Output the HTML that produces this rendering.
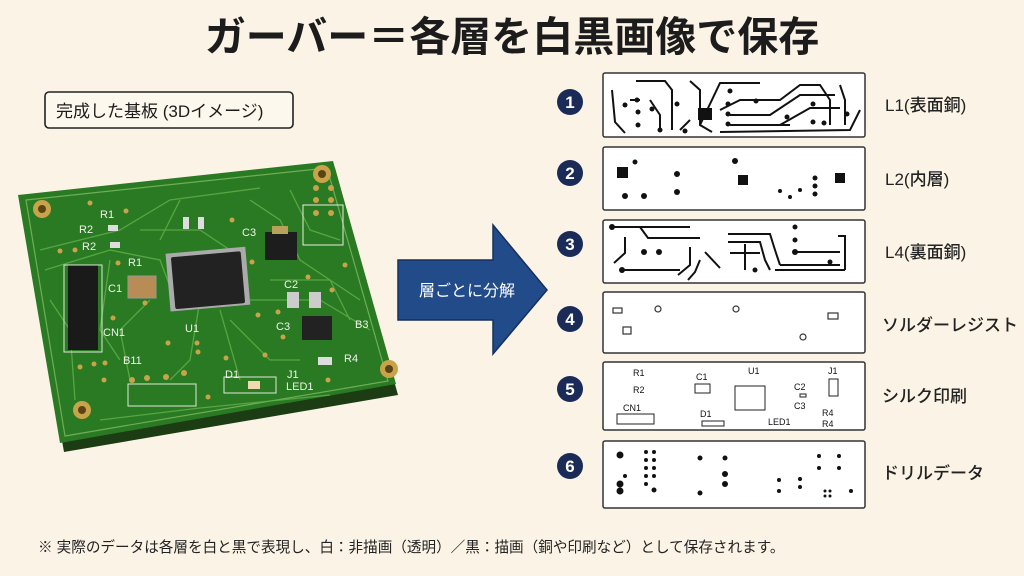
<!DOCTYPE html>
<html><head><meta charset="utf-8"><style>
html,body{margin:0;padding:0;background:#fbf4e6;}
svg{display:block;}
text{font-family:"Liberation Sans","Noto Sans CJK JP",sans-serif;}
</style></head><body>
<svg width="1024" height="576" viewBox="0 0 1024 576" xmlns="http://www.w3.org/2000/svg">
<rect width="1024" height="576" fill="#fbf4e6"/>
<text x="512" y="51" font-size="41" font-weight="bold" text-anchor="middle" fill="#1c1c1c">ガーバー＝各層を白黒画像で保存</text>
<rect x="45" y="92" width="248" height="36" rx="4" fill="#fdf8ee" stroke="#222" stroke-width="1.6"/>
<text x="56" y="117" font-size="17" fill="#1c1c1c">完成した基板 (3Dイメージ)</text>

<!-- PCB -->
<polygon points="20,203 335,168 398,395 64,452" fill="#1c3d14"/>
<polygon points="18,195 333,161 396,384 60,443" fill="#2a7a24"/>
<polygon points="26,200 327,168 388,381 65,436" fill="none" stroke="#8dc36d" stroke-width="1.2" opacity="0.7"/>
<g stroke="#5fae47" stroke-width="1.3" fill="none" opacity="0.85">
<path d="M40,250 L120,230 L170,200 L260,188"/><path d="M45,270 L110,250 L160,260 L175,300"/>
<path d="M50,300 L70,330 L75,400"/><path d="M140,230 L200,230 L230,250"/>
<path d="M250,200 L280,220 L300,260 L360,300"/><path d="M250,300 L320,300 L370,330"/>
<path d="M200,300 L190,360 L170,380"/><path d="M220,310 L240,380"/><path d="M150,300 L120,330 L130,380"/>
<path d="M270,280 L330,280 L350,320"/><path d="M100,420 L200,408 L330,395"/><path d="M180,200 L160,240"/>
<path d="M290,190 L310,230 L340,240"/><path d="M230,320 L270,360 L300,360"/><path d="M110,260 L100,330 L120,360"/>
</g>
<g fill="#c9a34a">
<circle cx="42" cy="209" r="9"/><circle cx="322" cy="174" r="9"/><circle cx="389" cy="369" r="9"/><circle cx="82" cy="410" r="9"/>
</g>
<g fill="#5a4414"><circle cx="42" cy="209" r="4"/><circle cx="322" cy="174" r="4"/><circle cx="389" cy="369" r="4"/><circle cx="82" cy="410" r="4"/></g>
<g fill="#c9a34a">
<circle cx="90" cy="203" r="2.5"/><circle cx="126" cy="211" r="2.5"/><circle cx="60" cy="251" r="2.5"/><circle cx="75" cy="250" r="2.5"/>
<circle cx="118" cy="263" r="2.5"/><circle cx="145" cy="303" r="2.5"/><circle cx="113" cy="318" r="2.5"/><circle cx="168" cy="343" r="2.5"/>
<circle cx="197" cy="343" r="2.5"/><circle cx="198" cy="352" r="2.5"/><circle cx="226" cy="358" r="2.5"/><circle cx="258" cy="315" r="2.5"/>
<circle cx="278" cy="312" r="2.5"/><circle cx="283" cy="337" r="2.5"/><circle cx="265" cy="355" r="2.5"/><circle cx="232" cy="220" r="2.5"/>
<circle cx="236" cy="256" r="2.5"/><circle cx="252" cy="262" r="2.5"/><circle cx="290" cy="236" r="2.5"/><circle cx="345" cy="265" r="2.5"/>
<circle cx="308" cy="277" r="2.5"/><circle cx="332" cy="290" r="2.5"/><circle cx="80" cy="367" r="2.5"/><circle cx="94" cy="364" r="2.5"/>
<circle cx="105" cy="363" r="2.5"/><circle cx="104" cy="380" r="2.5"/><circle cx="132" cy="380" r="3"/><circle cx="147" cy="378" r="3"/>
<circle cx="166" cy="377" r="3"/><circle cx="184" cy="373" r="3"/><circle cx="208" cy="397" r="2.5"/><circle cx="328" cy="380" r="2.5"/>
<circle cx="316" cy="188" r="3"/><circle cx="316" cy="200" r="3"/><circle cx="316" cy="213" r="3"/><circle cx="331" cy="188" r="3"/><circle cx="331" cy="200" r="3"/><circle cx="331" cy="213" r="3"/>
</g>
<rect x="303" y="205" width="40" height="40" fill="none" stroke="#e8efe0" stroke-width="1"/>
<g transform="rotate(-5 210 280)">
<rect x="168" y="250" width="80" height="58" fill="#aaa"/>
<rect x="173" y="254" width="70" height="52" rx="2" fill="#222"/>
</g>
<rect x="128" y="276" width="28" height="22" fill="#b78c55" stroke="#999"/>
<rect x="68" y="265" width="30" height="85" fill="#1a1a1a"/>
<rect x="64" y="265" width="38" height="87" fill="none" stroke="#dde8d6"/>
<rect x="265" y="232" width="32" height="28" fill="#1d1d1d"/>
<rect x="272" y="226" width="16" height="8" fill="#b8a25a"/>
<rect x="302" y="316" width="30" height="24" fill="#222"/>
<rect x="287" y="292" width="12" height="16" fill="#ccc"/><rect x="309" y="292" width="12" height="16" fill="#ccc"/>
<rect x="108" y="225" width="10" height="6" fill="#ddd"/><rect x="110" y="242" width="10" height="6" fill="#ddd"/>
<rect x="183" y="217" width="6" height="12" fill="#ddd"/><rect x="198" y="217" width="6" height="12" fill="#ddd"/>
<rect x="318" y="357" width="14" height="8" fill="#ddd"/><rect x="248" y="381" width="12" height="8" fill="#f0d8b0"/>
<rect x="128" y="384" width="68" height="22" fill="none" stroke="#dde8d6"/>
<rect x="224" y="377" width="52" height="16" fill="none" stroke="#dde8d6"/>
<g fill="#f2f2ea" font-size="11">
<text x="100" y="218">R1</text><text x="79" y="233">R2</text><text x="82" y="250">R2</text>
<text x="128" y="266">R1</text><text x="108" y="292">C1</text><text x="242" y="236">C3</text>
<text x="284" y="288">C2</text><text x="276" y="330">C3</text><text x="355" y="328">B3</text>
<text x="344" y="362">R4</text><text x="103" y="336">CN1</text><text x="185" y="332">U1</text>
<text x="123" y="364">B11</text><text x="225" y="378">D1</text><text x="287" y="378">J1</text>
<text x="286" y="390">LED1</text>
</g>

<!-- arrow -->
<polygon points="398,260 493,260 493,225 547,290 493,354 493,320 398,320" fill="#224b8a" stroke="#15305c" stroke-width="1.5"/>
<text x="467" y="296" font-size="16" fill="#fff" text-anchor="middle">層ごとに分解</text>

<g fill="#1b2b57">
<circle cx="570" cy="102" r="13"/><circle cx="570" cy="173" r="13"/><circle cx="570" cy="244" r="13"/>
<circle cx="570" cy="319" r="13"/><circle cx="570" cy="389" r="13"/><circle cx="570" cy="466" r="13"/>
</g>
<g fill="#fff" font-size="17" font-weight="bold" text-anchor="middle">
<text x="570" y="108">1</text><text x="570" y="179">2</text><text x="570" y="250">3</text>
<text x="570" y="325">4</text><text x="570" y="395">5</text><text x="570" y="472">6</text>
</g>
<g fill="#fff" stroke="#333" stroke-width="1.5">
<rect x="603" y="73" width="262" height="64" rx="2"/><rect x="603" y="147" width="262" height="63" rx="2"/>
<rect x="603" y="220" width="262" height="63" rx="2"/><rect x="603" y="292" width="262" height="61" rx="2"/>
<rect x="603" y="362" width="262" height="68" rx="2"/><rect x="603" y="441" width="262" height="67" rx="2"/>
</g>
<g fill="#222" font-size="17" font-weight="500">
<text x="885" y="111">L1(表面銅)</text><text x="885" y="185">L2(内層)</text><text x="885" y="258">L4(裏面銅)</text>
<text x="882" y="331">ソルダーレジスト</text><text x="882" y="402">シルク印刷</text><text x="882" y="479">ドリルデータ</text>
</g>
<g stroke="#111" stroke-width="2" fill="none">
<path d="M612,90 L615,122 L625,133"/><path d="M636,81 L665,81 L672,90 L672,130"/><path d="M690,81 L700,90 L700,125 L712,132"/>
<path d="M700,125 L720,83 L760,83"/><path d="M720,110 L740,100 L780,100 L800,85 L820,85 L830,100 L830,125"/>
<path d="M730,115 L770,115 L800,95 L835,95"/><path d="M730,125 L780,125 L810,108 L840,108"/><path d="M720,132 L850,130 L860,110"/>
<path d="M680,130 L690,120"/><path d="M630,100 L640,100"/><path d="M650,100 L660,115 L660,130"/>
<path d="M840,85 L845,100 L845,125"/><path d="M773,125 L790,125"/>
</g>
<rect x="698" y="108" width="14" height="12" fill="#111"/>
<g fill="#111">
<circle cx="625" cy="105" r="2.5"/><circle cx="637" cy="100" r="2.5"/><circle cx="638" cy="112" r="2.5"/><circle cx="638" cy="125" r="2.5"/>
<circle cx="652" cy="109" r="2.5"/><circle cx="660" cy="130" r="2.5"/><circle cx="677" cy="104" r="2.5"/><circle cx="685" cy="131" r="2.5"/>
<circle cx="728" cy="104" r="2.5"/><circle cx="728" cy="114" r="2.5"/><circle cx="728" cy="124" r="2.5"/><circle cx="787" cy="117" r="2.5"/>
<circle cx="813" cy="104" r="2.5"/><circle cx="813" cy="122" r="2.5"/><circle cx="824" cy="123" r="2.5"/><circle cx="847" cy="114" r="2.5"/>
<circle cx="756" cy="101" r="2.5"/><circle cx="730" cy="91" r="2.5"/>
</g>
<g fill="#111">
<rect x="617" y="167" width="11" height="11"/><rect x="738" y="175" width="10" height="10"/><rect x="835" y="173" width="10" height="10"/>
<circle cx="635" cy="162" r="2.5"/><circle cx="625" cy="196" r="3"/><circle cx="644" cy="196" r="3"/><circle cx="677" cy="174" r="3"/><circle cx="677" cy="192" r="3"/>
<circle cx="735" cy="161" r="3"/><circle cx="780" cy="191" r="2"/><circle cx="790" cy="197" r="2"/><circle cx="800" cy="190" r="2"/>
<circle cx="815" cy="178" r="2.5"/><circle cx="815" cy="186" r="2.5"/><circle cx="815" cy="194" r="2.5"/>
</g>
<g stroke="#111" stroke-width="2" fill="none">
<path d="M612,227 L690,227"/><path d="M640,227 L648,238 L700,238"/><path d="M625,237 L625,253 L614,263"/>
<path d="M620,270 L680,270"/><path d="M690,247 L690,265 L678,275"/><path d="M705,252 L720,268"/><path d="M700,260 L695,272 L688,280"/>
<path d="M728,234 L770,234 L775,250 L780,265"/><path d="M728,242 L760,242 L765,260 L770,270"/><path d="M730,253 L760,253"/>
<path d="M745,244 L745,270"/><path d="M795,252 L840,252"/><path d="M780,265 L840,265"/><path d="M775,270 L845,270"/><path d="M838,236 L845,236 L845,270"/>
</g>
<g fill="#111">
<circle cx="644" cy="252" r="3"/><circle cx="659" cy="252" r="3"/><circle cx="612" cy="227" r="3"/><circle cx="795" cy="227" r="2.5"/>
<circle cx="795" cy="240" r="2.5"/><circle cx="795" cy="252" r="3"/><circle cx="622" cy="270" r="3"/><circle cx="755" cy="270" r="2.5"/><circle cx="830" cy="262" r="2.5"/>
</g>
<g fill="none" stroke="#333" stroke-width="1.2">
<rect x="613" y="308" width="9" height="5"/><rect x="623" y="327" width="8" height="7"/><rect x="828" y="313" width="10" height="6"/>
<circle cx="658" cy="309" r="3"/><circle cx="736" cy="309" r="3"/><circle cx="803" cy="337" r="3"/>
</g>
<g fill="#111" font-size="9">
<text x="633" y="376">R1</text><text x="633" y="393">R2</text><text x="623" y="411">CN1</text><text x="696" y="380">C1</text>
<text x="748" y="374">U1</text><text x="794" y="390">C2</text><text x="794" y="409">C3</text><text x="828" y="374">J1</text>
<text x="822" y="416">R4</text><text x="822" y="427">R4</text><text x="700" y="417">D1</text><text x="768" y="425">LED1</text>
</g>
<g fill="none" stroke="#222" stroke-width="1">
<rect x="617" y="414" width="37" height="10"/><rect x="695" y="384" width="15" height="9"/><rect x="735" y="386" width="30" height="24"/>
<rect x="829" y="379" width="9" height="17"/><rect x="800" y="394" width="6" height="3"/><rect x="702" y="421" width="22" height="5"/>
</g>
<g fill="#111">
<circle cx="620" cy="455" r="3.5"/><circle cx="620" cy="484" r="3.5"/><circle cx="620" cy="491" r="3.5"/><circle cx="625" cy="476" r="2"/>
<circle cx="646" cy="452" r="2"/><circle cx="654" cy="452" r="2"/><circle cx="646" cy="460" r="2"/><circle cx="654" cy="460" r="2"/><circle cx="646" cy="468" r="2"/><circle cx="654" cy="468" r="2"/>
<circle cx="646" cy="476" r="2"/><circle cx="654" cy="476" r="2"/><circle cx="646" cy="484" r="2"/><circle cx="654" cy="490" r="2.5"/>
<circle cx="700" cy="458" r="2.5"/><circle cx="700" cy="493" r="2.5"/><circle cx="725" cy="458" r="2.5"/><circle cx="725" cy="474" r="3"/><circle cx="725" cy="484" r="3"/>
<circle cx="779" cy="480" r="2"/><circle cx="779" cy="491" r="2"/><circle cx="800" cy="479" r="2"/><circle cx="800" cy="487" r="2"/>
<circle cx="819" cy="456" r="2"/><circle cx="819" cy="468" r="2"/><circle cx="839" cy="456" r="2"/><circle cx="839" cy="468" r="2"/>
<circle cx="825" cy="491" r="1.5"/><circle cx="830" cy="491" r="1.5"/><circle cx="825" cy="496" r="1.5"/><circle cx="830" cy="496" r="1.5"/><circle cx="851" cy="491" r="2"/>
</g>
<text x="38" y="552" font-size="14.6" fill="#222">※ 実際のデータは各層を白と黒で表現し、白：非描画（透明）／黒：描画（銅や印刷など）として保存されます。</text>
</svg>
</body></html>
